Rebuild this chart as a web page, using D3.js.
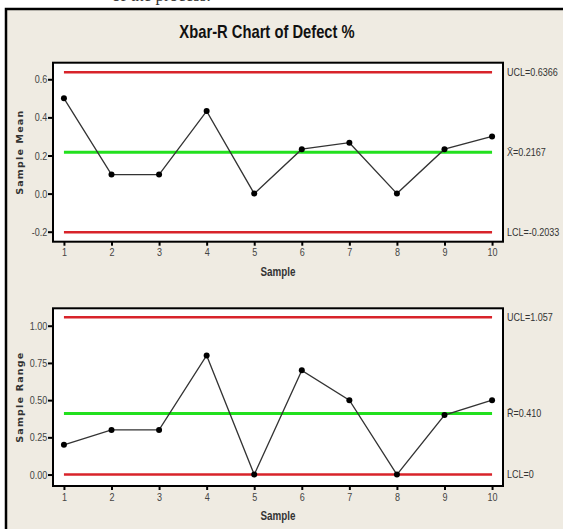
<!DOCTYPE html>
<html>
<head>
  <meta charset="utf-8">
  <title>Xbar-R Chart of Defect %</title>
  <script src="https://d3js.org/d3.v7.min.js"></script>
  <style>
    body { margin: 0; background: #fff; }
    svg { display: block; }
  </style>
</head>
<body>
  <svg width="563" height="529"></svg>
  <script>
    // data
    var samples = [1, 2, 3, 4, 5, 6, 7, 8, 9, 10];
    var sampleMeans = [0.5, 0.1, 0.1, 0.433, 0.0, 0.233, 0.267, 0.0, 0.233, 0.3];
    var sampleRanges = [0.2, 0.3, 0.3, 0.8, 0.0, 0.7, 0.5, 0.0, 0.4, 0.5];
    var meanLimits = [0.6366, 0.2167, -0.2033];   // UCL, center, LCL
    var rangeLimits = [1.057, 0.410, 0];
    var meanLimitLabels = ["UCL=0.6366", "X\u0304=0.2167", "LCL=-0.2033"];
    var rangeLimitLabels = ["UCL=1.057", "R\u0304=0.410", "LCL=0"];
    var meanTicks = [-0.2, 0.0, 0.2, 0.4, 0.6];
    var rangeTicks = [0, 0.25, 0.5, 0.75, 1.0];

    var svg = d3.select("svg");
    var sans = "'Liberation Sans', Arial, sans-serif";
    var squeeze = 0.82; // minitab-style condensed text

    // text squeezed horizontally around its anchor point
    function label(parent, x0, y0, str, size, opts) {
      opts = opts || {};
      var t = parent.append("g")
        .attr("transform", "translate(" + x0 + "," + y0 + ") scale(" + squeeze + ",1)")
        .append("text")
        .attr("text-anchor", opts.anchor || "start")
        .attr("dy", opts.dy || null)
        .attr("font-family", sans)
        .attr("font-weight", opts.bold ? "bold" : null)
        .attr("font-size", size)
        .attr("fill", opts.fill || "#333")
        .text(str);
      return t;
    }

    // cut off caption of the page above the figure
    svg.append("clipPath").attr("id", "topclip")
      .append("rect").attr("x", 0).attr("y", 0).attr("width", 563).attr("height", 8);
    svg.append("text")
      .attr("clip-path", "url(#topclip)")
      .attr("x", 112).attr("y", 1)
      .attr("font-family", "'Liberation Serif', serif")
      .attr("font-size", 17)
      .attr("fill", "#333")
      .text("of the process.");

    // figure frame
    svg.append("rect")
      .attr("x", 6).attr("y", 9)
      .attr("width", 570).attr("height", 540)
      .attr("fill", "#efebe2")
      .attr("stroke", "#000")
      .attr("stroke-width", 2.5);

    label(svg, 267, 38, "Xbar-R Chart of Defect %", 18, { anchor: "middle", bold: true, fill: "#111" });

    var x = d3.scaleLinear().domain([0.77, 10.23]).range([53, 503]);

    function drawPanel(p) {
      var y = d3.scaleLinear().domain(p.domain).range([p.bottom, p.top]);
      var g = svg.append("g");

      g.append("rect")
        .attr("x", x.range()[0]).attr("y", p.top)
        .attr("width", x.range()[1] - x.range()[0])
        .attr("height", p.bottom - p.top)
        .attr("fill", "#fff");

      // control limit lines
      var colors = ["#d8232a", "#22e01e", "#d8232a"];
      var widths = [2.5, 3, 2.5];
      g.selectAll(".limit")
        .data(p.limits)
        .enter()
        .append("line")
        .attr("x1", x(samples[0]))
        .attr("x2", x(samples[samples.length - 1]))
        .attr("y1", function (d) { return y(d); })
        .attr("y2", function (d) { return y(d); })
        .attr("stroke", function (d, i) { return colors[i]; })
        .attr("stroke-width", function (d, i) { return widths[i]; });

      p.limits.forEach(function (d, i) {
        label(g, 507, y(d), p.labels[i], 11, { dy: "0.35em" });
      });

      // data line and points
      var line = d3.line()
        .x(function (d, i) { return x(samples[i]); })
        .y(function (d) { return y(d); });
      g.append("path")
        .datum(p.values)
        .attr("d", line)
        .attr("fill", "none")
        .attr("stroke", "#333")
        .attr("stroke-width", 1.3);
      g.selectAll(".pt")
        .data(p.values)
        .enter()
        .append("circle")
        .attr("cx", function (d, i) { return x(samples[i]); })
        .attr("cy", function (d) { return y(d); })
        .attr("r", 3)
        .attr("fill", "#000");

      // axes
      var yAxis = g.append("g")
        .attr("transform", "translate(" + x.range()[0] + ",0)")
        .call(d3.axisLeft(y).tickValues(p.ticks).tickSize(5).tickPadding(2)
          .tickFormat(function (d) { return d3.format(p.fmt)(d).replace("\u2212", "-"); }));
      var xAxis = g.append("g")
        .attr("transform", "translate(0," + p.bottom + ")")
        .call(d3.axisBottom(x).tickValues(samples).tickSize(4).tickPadding(3)
          .tickFormat(d3.format("d")));
      [xAxis, yAxis].forEach(function (a) {
        a.select(".domain").remove();
        a.selectAll(".tick line").attr("stroke", "#000").attr("stroke-width", 2);
        a.selectAll(".tick text")
          .attr("font-family", sans)
          .attr("font-size", 11)
          .attr("fill", "#444")
          .attr("transform", "scale(" + squeeze + ",1)");
      });

      g.append("rect")
        .attr("x", x.range()[0]).attr("y", p.top)
        .attr("width", x.range()[1] - x.range()[0])
        .attr("height", p.bottom - p.top)
        .attr("fill", "none")
        .attr("stroke", "#000")
        .attr("stroke-width", 2);

      label(g, (x.range()[0] + x.range()[1]) / 2, p.bottom + 34, "Sample", 12, { anchor: "middle", bold: true });

      g.append("text")
        .attr("transform", "translate(23," + (p.top + p.bottom) / 2 + ") rotate(-90)")
        .attr("text-anchor", "middle")
        .attr("font-family", "'DejaVu Sans', sans-serif")
        .attr("font-weight", "bold")
        .attr("font-size", 9.5)
        .attr("letter-spacing", 1.2)
        .attr("fill", "#333")
        .text(p.title);
    }

    drawPanel({
      top: 62.7, bottom: 241.7, domain: [-0.2525, 0.687],
      values: sampleMeans, limits: meanLimits, labels: meanLimitLabels,
      ticks: meanTicks, fmt: ".1f", title: "Sample Mean"
    });
    drawPanel({
      top: 308.3, bottom: 486, domain: [-0.077, 1.117],
      values: sampleRanges, limits: rangeLimits, labels: rangeLimitLabels,
      ticks: rangeTicks, fmt: ".2f", title: "Sample Range"
    });
  </script>
</body>
</html>
